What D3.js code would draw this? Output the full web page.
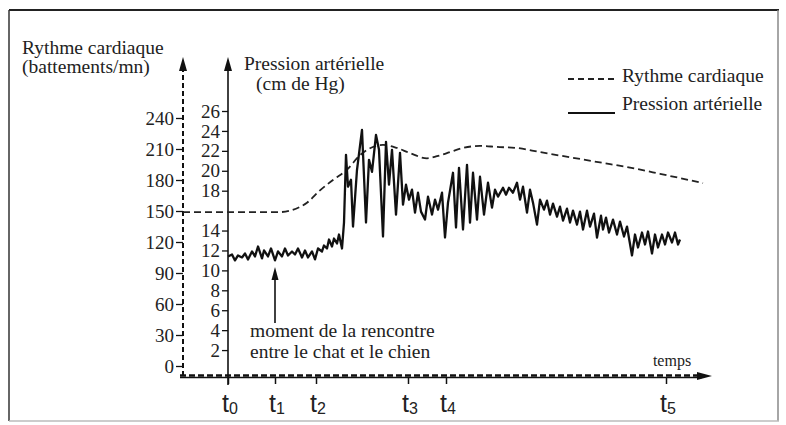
<!DOCTYPE html>
<html><head><meta charset="utf-8">
<script src="https://cdn.jsdelivr.net/npm/d3@7"></script>
<style>body{margin:0;background:#fff}svg{display:block}</style>
</head><body><svg id="c" width="786" height="425"></svg>
<script>
// ---- data ----
const rythmeTicks = [0, 30, 60, 90, 120, 150, 180, 210, 240];
const pressionTicks = [2, 4, 6, 8, 10, 12, 14, 18, 20, 22, 24, 26];
const timeTicks = [0, 47, 88, 180, 218, 438];
const timeLabels = ["0", "1", "2", "3", "4", "5"];
const rythme = [[-45,149],[0,149],[52,149],[72,154],[79,158],[92,170],[105,180],[119,190],[132,204],[155,214],[169,211],[182,206],[199,201],[209,203],[222,207],[235,211],[252,213],[269,212],[289,211],[312,207],[342,202],[372,197],[402,192],[432,186],[475,177]];
const pression = [[0,11.4],[4,11.6],[7,11.0],[10,11.5],[14,11.3],[17,11.7],[20,11.1],[24,11.9],[27,11.4],[30,12.4],[34,11.2],[36,12.0],[40,11.4],[43,12.2],[47,11.0],[50,11.9],[54,11.4],[57,12.2],[60,11.5],[64,11.9],[67,11.6],[70,12.2],[74,11.3],[77,12.0],[80,11.3],[84,11.9],[87,11.1],[90,12.2],[94,11.9],[96,12.5],[99,12.2],[101,13.1],[104,12.4],[106,13.2],[109,12.7],[111,13.6],[114,12.2],[116,14.8],[118,21.6],[120,18.4],[123,19.1],[125,14.4],[129,20.1],[134,24.1],[138,14.8],[141,21.1],[144,19.9],[148,23.6],[151,22.1],[155,13.4],[158,22.9],[161,18.6],[164,22.1],[168,15.6],[172,21.8],[175,16.6],[178,18.6],[181,17.1],[184,18.1],[187,15.8],[190,17.8],[193,15.9],[197,15.1],[200,17.4],[204,15.6],[207,17.1],[210,16.1],[214,17.8],[217,13.3],[220,16.8],[225,19.8],[228,14.3],[231,20.3],[235,14.1],[239,20.6],[242,14.8],[245,19.8],[249,15.1],[252,19.4],[256,15.6],[260,18.8],[264,16.3],[267,18.1],[270,17.4],[275,18.3],[278,17.6],[281,18.3],[285,17.8],[289,18.8],[292,17.1],[295,18.4],[299,15.8],[302,18.1],[305,16.8],[309,14.6],[312,17.1],[316,16.1],[319,17.0],[322,15.6],[325,16.7],[329,15.4],[332,16.4],[335,15.0],[339,16.2],[342,14.8],[345,16.0],[349,14.6],[352,15.9],[355,14.1],[359,16.0],[362,14.4],[366,15.7],[369,13.3],[373,15.5],[375,14.1],[378,15.3],[381,13.8],[385,15.1],[389,13.6],[392,14.9],[396,13.4],[399,14.4],[404,11.5],[407,13.6],[410,12.3],[414,13.8],[417,12.6],[420,13.9],[424,11.7],[427,13.6],[430,12.3],[434,13.6],[437,12.6],[440,13.8],[444,12.8],[447,13.8],[450,12.6],[452,13.1]];

// ---- layout ----
const svg = d3.select("#c");
const serif = "Liberation Serif, DejaVu Serif, serif";
const x = d3.scaleLinear().domain([-45, 484]).range([183, 712]);
const yR = d3.scaleLinear().domain([0, 240]).range([366, 118]);
const yP = d3.scaleLinear().domain([0, 26]).range([370, 111]);
const baseY = 376, topY = 57;
const xR = x(-45), xP = x(0);

// frame
svg.append("line").attr("x1",9).attr("y1",10).attr("x2",779).attr("y2",10).attr("stroke","#222").attr("stroke-width",2);
svg.append("line").attr("x1",9).attr("y1",10).attr("x2",9).attr("y2",421).attr("stroke","#333").attr("stroke-width",1.5);
svg.append("line").attr("x1",778).attr("y1",10).attr("x2",778).attr("y2",421).attr("stroke","#888").attr("stroke-width",1.5);
svg.append("line").attr("x1",9).attr("y1",421).attr("x2",779).attr("y2",421).attr("stroke","#bbb").attr("stroke-width",1.5);

function arrowUp(cx, tip){ svg.append("path").attr("d",`M${cx},${tip}L${cx-4},${tip+14}L${cx+4},${tip+14}Z`).attr("fill","#111"); }

// rythme axis (dashed)
svg.append("line").attr("x1",xR).attr("x2",xR).attr("y1",baseY).attr("y2",topY+10)
  .attr("stroke","#111").attr("stroke-width",2).attr("stroke-dasharray","5,3");
arrowUp(xR, topY);
const gR = svg.append("g").attr("transform",`translate(${xR},0)`)
  .call(d3.axisLeft(yR).tickValues(rythmeTicks).tickSize(7).tickPadding(2));
gR.select(".domain").remove();
gR.attr("font-family", serif).attr("font-size", 19);
gR.selectAll("line").attr("stroke","#111").attr("stroke-width",1.3);
gR.selectAll("text").attr("fill","#222");

// pression axis (solid)
svg.append("line").attr("x1",xP).attr("x2",xP).attr("y1",baseY+9).attr("y2",topY+10)
  .attr("stroke","#111").attr("stroke-width",1.6);
arrowUp(xP, topY);
const gP = svg.append("g").attr("transform",`translate(${xP},0)`)
  .call(d3.axisLeft(yP).tickValues(pressionTicks).tickSize(6).tickPadding(2));
gP.select(".domain").remove();
gP.attr("font-family", serif).attr("font-size", 19);
gP.selectAll("line").attr("stroke","#111").attr("stroke-width",1.3);
gP.selectAll("text").attr("fill","#222");

// time axis
const xEnd = x(484);
svg.append("line").attr("x1",xR-3).attr("x2",xEnd-10).attr("y1",baseY+1.5).attr("y2",baseY+1.5)
  .attr("stroke","#111").attr("stroke-width",1.6);
svg.append("line").attr("x1",xR-3).attr("x2",xEnd-10).attr("y1",baseY-0.5).attr("y2",baseY-0.5)
  .attr("stroke","#111").attr("stroke-width",2.4).attr("stroke-dasharray","6,3");
svg.append("path").attr("d",`M${xEnd},${baseY}L${xEnd-15},${baseY-4}L${xEnd-15},${baseY+4}Z`).attr("fill","#111");
const gT = svg.append("g").attr("transform",`translate(0,${baseY+1})`)
  .call(d3.axisBottom(x).tickValues(timeTicks).tickSize(7).tickFormat(""));
gT.select(".domain").remove();
gT.selectAll("line").attr("stroke","#111").attr("stroke-width",1.5);
const tl = svg.append("g").selectAll("text").data(timeTicks).join("text")
  .attr("x", d => x(d) - 6).attr("y", 412)
  .attr("font-family","Liberation Sans, Arial, sans-serif").attr("fill","#222");
tl.append("tspan").attr("font-size",25).text("t");
tl.append("tspan").attr("font-size",16).attr("dy",2).text((d,i) => timeLabels[i]);
svg.append("text").attr("x",672).attr("y",366).attr("text-anchor","middle")
  .attr("font-family",serif).attr("font-size",16).attr("fill","#222").text("temps");

// series
svg.append("path").datum(rythme)
  .attr("d", d3.line().x(d=>x(d[0])).y(d=>yR(d[1])).curve(d3.curveMonotoneX))
  .attr("fill","none").attr("stroke","#222").attr("stroke-width",1.8).attr("stroke-dasharray","7,4");
svg.append("path").datum(pression)
  .attr("d", d3.line().x(d=>x(d[0])).y(d=>yP(d[1])))
  .attr("fill","none").attr("stroke","#111").attr("stroke-width",2.3).attr("stroke-linejoin","round");

// titles
function txt(xx, yy, s, size){ return svg.append("text").attr("x",xx).attr("y",yy).attr("font-family",serif).attr("font-size",size||19.5).attr("fill","#222").text(s); }
txt(22, 54, "Rythme cardiaque");
txt(22, 73, "(battements/mn)");
txt(244, 70, "Pression artérielle");
txt(256, 90, "(cm de Hg)");

// legend
svg.append("line").attr("x1",568).attr("x2",615).attr("y1",79).attr("y2",79)
  .attr("stroke","#222").attr("stroke-width",1.8).attr("stroke-dasharray","6,4");
txt(622, 82, "Rythme cardiaque");
svg.append("line").attr("x1",568).attr("x2",615).attr("y1",113).attr("y2",113)
  .attr("stroke","#111").attr("stroke-width",2);
txt(622, 110, "Pression artérielle");

// annotation
const ax = x(47);
svg.append("line").attr("x1",ax).attr("x2",ax).attr("y1",323).attr("y2",278).attr("stroke","#111").attr("stroke-width",1.6);
svg.append("path").attr("d",`M${ax},267L${ax-3.5},280L${ax+3.5},280Z`).attr("fill","#111");
txt(250, 337, "moment de la rencontre");
txt(250, 358, "entre le chat et le chien");
</script></body></html>
